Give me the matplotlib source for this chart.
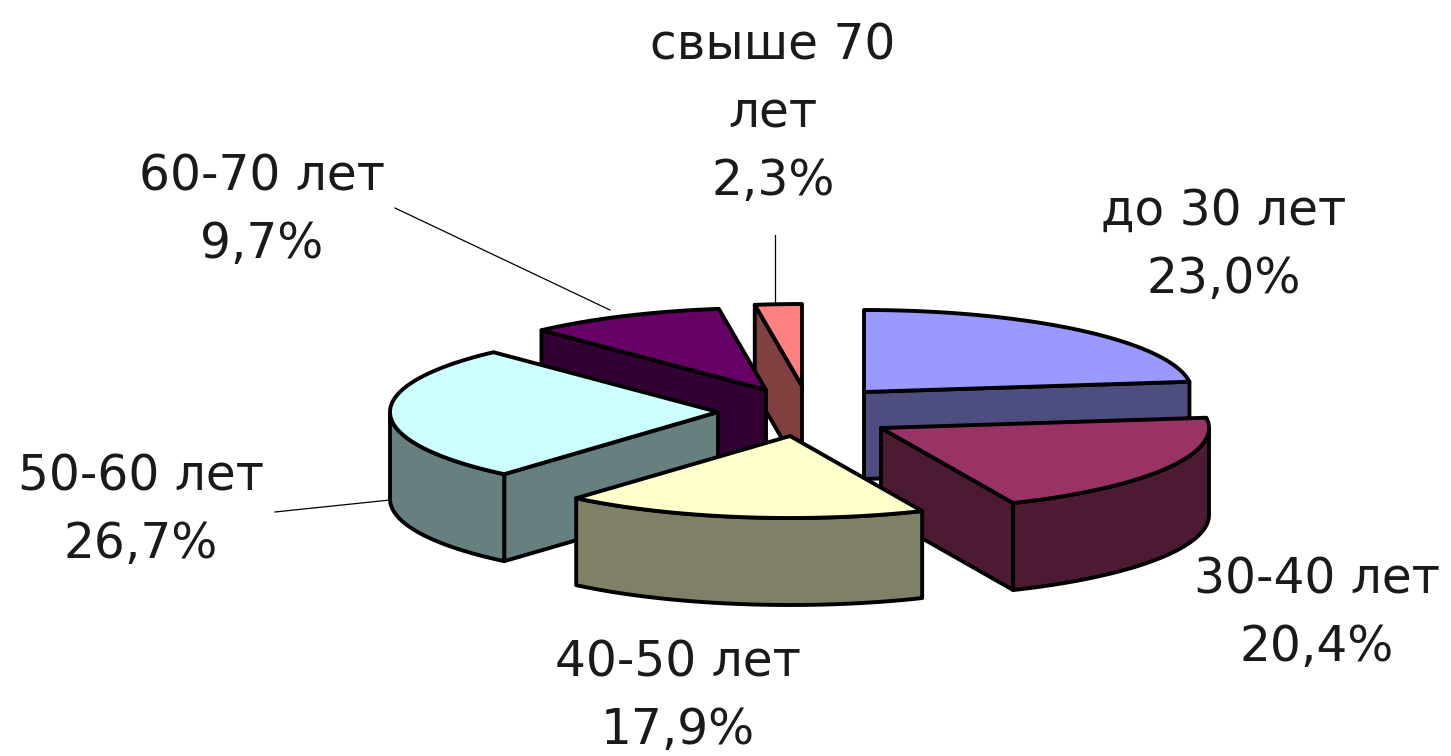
import numpy as np
import matplotlib
matplotlib.use("Agg")
import matplotlib.pyplot as plt
from matplotlib.patches import Polygon

plt.rcParams["font.family"] = ["Liberation Sans", "DejaVu Sans"]

labels = ["до 30 лет", "30-40 лет", "40-50 лет", "50-60 лет", "60-70 лет", "свыше 70\nлет"]
values = [23.0, 20.4, 17.9, 26.7, 9.7, 2.3]
colors = ["#9999FF", "#993366", "#FFFFCC", "#CCFFFF", "#660066", "#FF8080"]
sides = ["#4D4D80", "#4D1A33", "#808066", "#668080", "#330033", "#804040"]

# где стоит вершина каждого сектора (в пикселях картинки)
apex = [(864, 392), (881, 428), (790, 436), (718, 412), (766, 390), (802, 386)]
label_pos = [(1224, 245), (1317, 613), (678, 696), (141, 510), (262, 210), (773, 113)]
leaders = [((395, 208), (610, 310)), ((775, 235), (775, 305)), ((275, 512), (390, 500))]

rx, ry, depth = 328, 82, 87
draw_order = [5, 4, 0, 3, 1, 2]

fig = plt.figure(figsize=(14.51, 7.56), dpi=100)
ax = fig.add_axes([0, 0, 1, 1])
ax.set_xlim(0, 1451)
ax.set_ylim(756, 0)
ax.axis("off")

ends = np.cumsum(values) / np.sum(values) * 2 * np.pi
starts = np.concatenate([[0], ends[:-1]])


def rim(a, b, cx, cy):
    t = np.linspace(a, b, 60)
    return np.column_stack([cx + rx * np.sin(t), cy - ry * np.cos(t)])


def face(pts, color, z):
    ax.add_patch(Polygon(pts, closed=True, fc=color, ec="black", lw=2.8, joinstyle="round", zorder=z))


for z, i in enumerate(draw_order):
    cx, cy = apex[i]
    a, b = starts[i], ends[i]
    base = z * 10 + 1
    # боковые срезы сектора
    for th, visible in ((a, np.sin(a) < -1e-6), (b, np.sin(b) > 1e-6)):
        if visible:
            p = rim(th, th, cx, cy)[0]
            face([(cx, cy), p, (p[0], p[1] + depth), (cx, cy + depth)], sides[i], base)
    # внешняя стенка, только передняя половина
    lo, hi = max(a, np.pi / 2), min(b, 3 * np.pi / 2)
    if lo < hi:
        r = rim(lo, hi, cx, cy)
        face(np.vstack([r, r[::-1] + [0, depth]]), sides[i], base + 1)
    # верх
    face(np.vstack([[(cx, cy)], rim(a, b, cx, cy)]), colors[i], base + 2)

for p, q in leaders:
    ax.plot([p[0], q[0]], [p[1], q[1]], color="black", lw=0.9, zorder=0)

for name, v, pos in zip(labels, values, label_pos):
    txt = name + "\n" + f"{v:.1f}".replace(".", ",") + "%"
    ax.text(pos[0], pos[1], txt, ha="center", va="center", fontsize=35, linespacing=1.52,
            color="#1a1a1a", family=["DejaVu Sans"])

fig.savefig("out.png", dpi=100, facecolor="white")
